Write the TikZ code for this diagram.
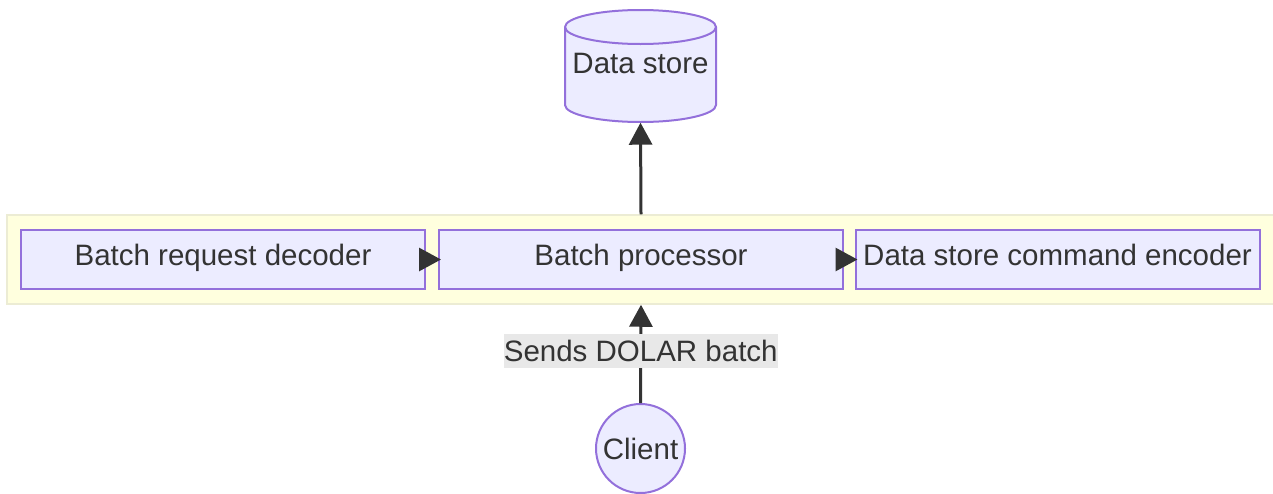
\documentclass[tikz,border=0pt]{standalone}
\usepackage{fontspec}
\setmainfont{Liberation Sans}
\usetikzlibrary{arrows.meta,calc}
\definecolor{nodefill}{HTML}{ECECFF}
\definecolor{nodeline}{HTML}{9370DB}
\definecolor{clusterfill}{HTML}{FFFFDE}
\definecolor{clusterline}{HTML}{ECECD4}
\definecolor{ink}{HTML}{333333}
\definecolor{labelgray}{HTML}{E8E8E8}
\tikzset{
  every node/.style={font=\fontsize{29.5}{34}\selectfont, text=ink},
  procbox/.style={draw=nodeline, fill=nodefill, line width=2pt,
    minimum width=404pt, minimum height=59pt, inner sep=0pt,
    text height=21pt, text depth=10pt},
  flow/.style={draw=ink, line width=3pt,
    -{Triangle[length=22pt,width=23pt]}},
  edgelabel/.style={fill=labelgray, inner sep=0pt,
    minimum width=273pt, minimum height=34pt},
}
\begin{document}
\begin{tikzpicture}[x=1pt, y=-1pt]
  \useasboundingbox (0,0) rectangle (1273,493);

  % subgraph background
  \node[draw=clusterline, fill=clusterfill, line width=1.5pt,
        minimum width=1275pt, minimum height=89pt, inner sep=0pt]
        (cluster) at (644.5,259.5) {};

  % data store cylinder
  \filldraw[draw=nodeline, fill=nodefill, line width=2pt]
    (565,27) -- (565,105)
    arc[start angle=180, end angle=360, x radius=75.5pt, y radius=17pt]
    -- (716,27)
    arc[start angle=0, end angle=180, x radius=75.5pt, y radius=17pt]
    -- cycle;
  \draw[draw=nodeline, line width=2pt]
    (565,27) arc[start angle=180, end angle=360, x radius=75.5pt, y radius=17pt];
  \node[minimum width=151pt, minimum height=113pt, inner sep=0pt]
    (store) at (640.5,66) {};
  \node at (640.5,63) {Data store};

  % processing stages
  \node[procbox] (decoder) at (223,259.5) {Batch request decoder};
  \node[procbox] (proc) at (641,259.5) {Batch processor};
  \node[procbox] (encoder) at (1057.5,259.5) {Data store command encoder};

  % client
  \node[circle, draw=nodeline, fill=nodefill, line width=2pt,
        minimum size=89pt, inner sep=0pt] (client) at (640.5,448.5) {Client};

  % connectors
  \draw[flow] ([xshift=-4pt]decoder.east) -- ([xshift=3pt]proc.west);
  \draw[flow] ([xshift=-4pt]proc.east) -- ([xshift=3pt]encoder.west);
  \draw[flow] (proc.north |- cluster.north) -- (store.south);
  \draw[flow] (client.north) -- (proc.south |- cluster.south)
    node[edgelabel, pos=0.5, yshift=3pt] (lbl) {Sends DOLAR batch};
\end{tikzpicture}
\end{document}
